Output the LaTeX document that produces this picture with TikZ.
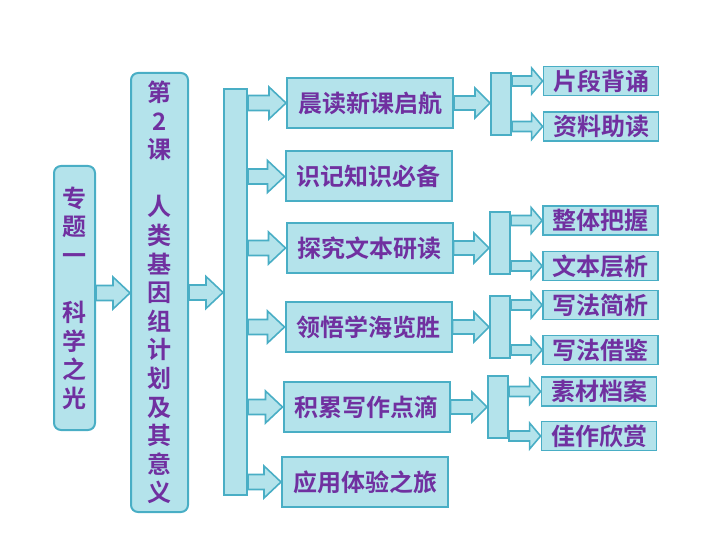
\documentclass[tikz,border=0pt]{standalone}
\usepackage{fontspec}
\newfontfamily\cjk{Noto Sans CJK SC Bold}
\usetikzlibrary{calc}
\definecolor{drop}{RGB}{180,227,235}
\definecolor{rim}{RGB}{73,174,197}
\definecolor{ink}{RGB}{112,48,160}
\begin{document}
\begin{tikzpicture}[x=1pt,y=-1pt,
  pane/.style={draw=rim, fill=drop, line width=2pt, inner sep=0pt, text=ink,
    font=\cjk\fontsize{24}{28.6}\selectfont},
  tallpane/.style={pane, align=center, rounded corners=7pt},
  rowpane/.style={pane, minimum width=166pt, minimum height=50pt},
  leafpane/.style={pane, minimum width=115pt, minimum height=29pt, line width=1.8pt},
  hub/.style={draw=rim, fill=drop, line width=2pt},
  fatarrow/.style n args={3}{draw=rim, fill=drop, line width=1.6pt,
    to path={let \p1=(\tikztostart), \p2=(\tikztotarget) in
      (\x1,\y1+#1) -- (\x2-#3,\y1+#1) -- (\x2-#3,\y1+#2) -- (\x2,\y1)
      -- (\x2-#3,\y1-#2) -- (\x2-#3,\y1-#1) -- (\x1,\y1-#1) -- cycle}},
  bigarrow/.style={fatarrow={7.5pt}{16pt}{17pt}},
  midarrow/.style={fatarrow={7pt}{15pt}{15pt}},
  leafarrow/.style={fatarrow={5pt}{13pt}{11pt}}]
\useasboundingbox (0,0) rectangle (720,540);

\node [tallpane, minimum width=41pt, minimum height=264pt] (topic) at (74.5,298)
  {专\\题\\一\\~\\科\\学\\之\\光};
\node [tallpane, minimum width=57pt, minimum height=439pt] (lesson) at (159.5,292.5)
  {第\\2\\课\\~\\人\\类\\基\\因\\组\\计\\划\\及\\其\\意\\义};
\node [hub, minimum width=23pt, minimum height=406pt] (spine) at (235.5,292) {};

\node [rowpane] (morning) at (370,103) {晨读新课启航};
\node [rowpane] (memory) at (368.5,176.5) {识记知识必备};
\node [rowpane] (explore) at (369.5,248) {探究文本研读};
\node [rowpane] (insight) at (368.5,327) {领悟学海览胜};
\node [rowpane] (writing) at (366.5,407) {积累写作点滴};
\node [rowpane] (practice) at (365,482) {应用体验之旅};

\node [hub, minimum width=20pt, minimum height=62pt] (hubA) at (501,104) {};
\node [hub, minimum width=20pt, minimum height=62pt] (hubB) at (500,243) {};
\node [hub, minimum width=20pt, minimum height=62pt] (hubC) at (500,327) {};
\node [hub, minimum width=20pt, minimum height=62pt] (hubD) at (498,407) {};

\node [leafpane] (recite) at (601,81) {片段背诵};
\node [leafpane] (material) at (601,126.5) {资料助读};
\node [leafpane] (whole) at (600.5,220.5) {整体把握};
\node [leafpane] (layers) at (600.5,266) {文本层析};
\node [leafpane] (method) at (600.5,305) {写法简析};
\node [leafpane] (borrow) at (600.5,350) {写法借鉴};
\node [leafpane] (archive) at (599,391.5) {素材档案};
\node [leafpane] (appreciate) at (599,436) {佳作欣赏};

\draw [bigarrow] ([yshift=5pt]topic.east) to (lesson.west);
\draw [bigarrow] (lesson.east) to (spine.west);
\foreach \row in {morning,memory,explore,insight,writing,practice}
  \draw [bigarrow] (spine.east |- \row.west) to (\row.west);

\draw [midarrow] (morning.east) to (hubA.west);
\draw [midarrow] (explore.east) to (hubB.west);
\draw [midarrow] (insight.east) to (hubC.west);
\draw [midarrow] (writing.east) to (hubD.west);

\draw [leafarrow] (hubA.east |- recite.west) to (recite.west);
\draw [leafarrow] (hubA.east |- material.west) to (material.west);
\draw [leafarrow] (hubB.east |- whole.west) to (whole.west);
\draw [leafarrow] (hubB.east |- layers.west) to (layers.west);
\draw [leafarrow] (hubC.east |- method.west) to (method.west);
\draw [leafarrow] (hubC.east |- borrow.west) to (borrow.west);
\draw [leafarrow] (hubD.east |- archive.west) to (archive.west);
\draw [leafarrow] (hubD.east |- appreciate.west) to (appreciate.west);
\end{tikzpicture}
\end{document}
